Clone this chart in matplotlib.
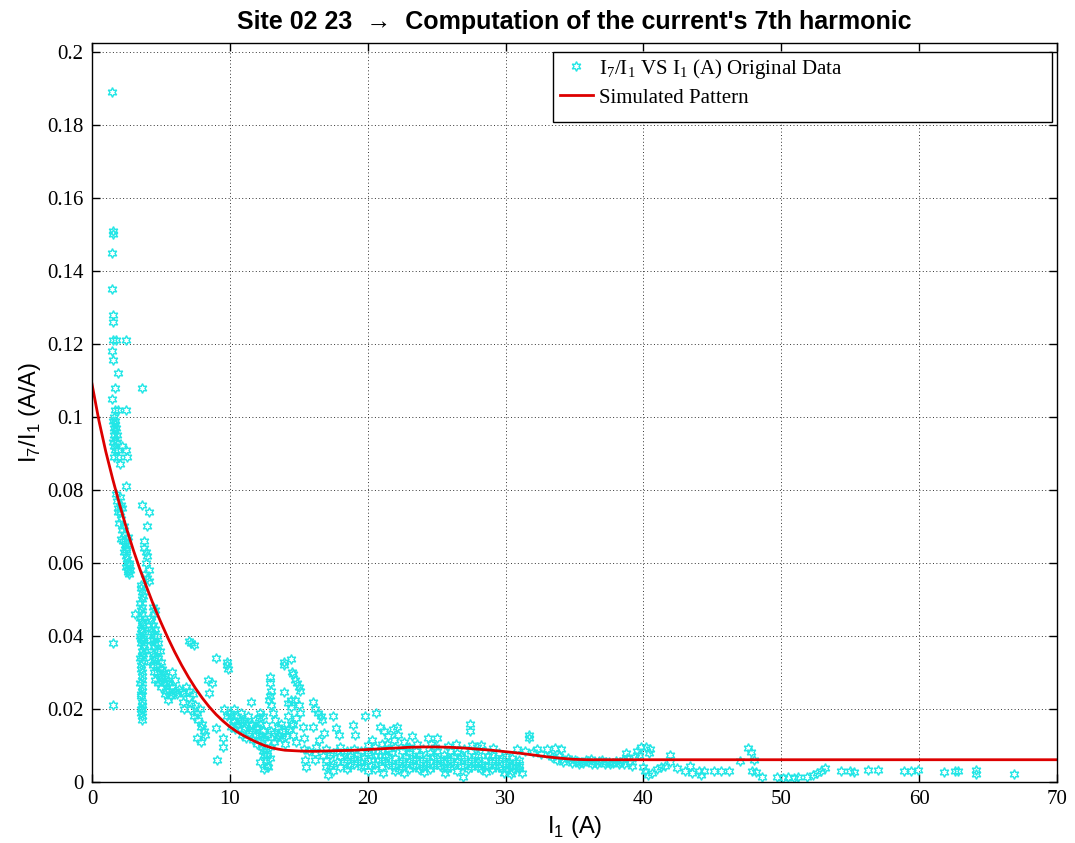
import numpy as np
import matplotlib
matplotlib.use("Agg")
import matplotlib.pyplot as plt
from matplotlib.patches import Rectangle
from matplotlib.ticker import MultipleLocator, FuncFormatter

plt.rcParams['mathtext.fontset'] = 'custom'
plt.rcParams['mathtext.rm'] = 'Liberation Serif'
plt.rcParams['mathtext.sf'] = 'Liberation Sans'

# measured points (I1 in A, I7/I1 ratio), grouped by current range
steep_pts = [(1.45, 0.189), (1.5, 0.151), (1.5, 0.150), (1.45, 0.145), (1.45, 0.135), (1.55, 0.128),
             (1.55, 0.126), (1.5, 0.121), (1.75, 0.121), (2.45, 0.121), (1.45, 0.118), (1.55, 0.1155),
             (1.9, 0.112), (1.7, 0.108), (1.45, 0.105), (1.65, 0.102), (1.9, 0.102), (2.45, 0.102),
             (1.6, 0.100), (1.7, 0.099), (1.6, 0.097), (1.65, 0.096), (1.7, 0.094), (1.8, 0.093),
             (1.6, 0.092), (1.9, 0.091), (2.2, 0.092), (2.5, 0.091), (2.55, 0.089), (1.9, 0.089),
             (2.0, 0.087), (2.5, 0.081), (1.5, 0.038), (1.5, 0.021), (1.75, 0.079), (1.8, 0.077),
             (1.85, 0.075), (1.9, 0.074), (2.0, 0.074), (2.2, 0.075), (1.95, 0.071), (2.3, 0.070),
             (2.1, 0.0665), (2.25, 0.066), (2.4, 0.065), (2.3, 0.063), (2.5, 0.062), (2.55, 0.060),
             (2.5, 0.059), (2.6, 0.058), (2.7, 0.057), (2.7, 0.060), (2.45, 0.064), (2.35, 0.068),
             (2.6, 0.067), (2.1, 0.072), (1.55, 0.099), (1.65, 0.098), (1.6, 0.095), (1.75, 0.097),
             (1.55, 0.093), (1.7, 0.091), (1.6, 0.089), (1.8, 0.095), (2.0, 0.078), (2.1, 0.076),
             (2.2, 0.069), (2.4, 0.066), (2.5, 0.0635), (2.55, 0.061), (2.65, 0.0595), (2.6, 0.0575),
             (2.75, 0.058)]

column_pts = [(3.6, 0.108), (3.6, 0.076), (4.1, 0.074), (4.0, 0.070), (3.75, 0.066), (3.8, 0.064),
              (3.9, 0.063), (4.0, 0.062), (3.95, 0.060), (4.1, 0.058), (3.85, 0.057), (4.0, 0.056),
              (4.1, 0.055), (3.55, 0.054), (3.6, 0.052), (3.7, 0.051), (3.5, 0.049), (3.6, 0.048),
              (3.65, 0.046), (3.5, 0.045), (3.6, 0.044), (3.7, 0.043), (3.55, 0.042), (3.6, 0.041),
              (3.5, 0.040), (3.65, 0.039), (3.55, 0.038), (3.6, 0.036), (3.7, 0.035), (3.5, 0.034),
              (3.6, 0.033), (3.55, 0.031), (3.65, 0.030), (3.6, 0.028), (3.5, 0.027), (3.6, 0.025),
              (3.55, 0.024), (3.6, 0.022), (3.65, 0.020), (3.55, 0.019), (3.6, 0.018), (3.65, 0.017),
              (3.1, 0.046), (3.7, 0.0395), (3.75, 0.0375), (3.55, 0.053), (3.65, 0.050), (3.55, 0.047),
              (3.6, 0.0435), (3.65, 0.0415), (3.55, 0.0395), (3.7, 0.037), (3.6, 0.0345), (3.55, 0.032),
              (3.65, 0.029), (3.6, 0.026), (3.55, 0.0235), (3.65, 0.021), (3.55, 0.020)]

cloud_pts = [(4.4, 0.048), (4.6, 0.047), (4.5, 0.046), (4.3, 0.044), (4.4, 0.043), (4.6, 0.042),
             (4.3, 0.041), (4.5, 0.040), (4.7, 0.040), (4.4, 0.039), (4.6, 0.038), (4.8, 0.038),
             (4.5, 0.037), (4.7, 0.036), (4.9, 0.036), (4.4, 0.035), (4.6, 0.034), (4.8, 0.034),
             (5.0, 0.033), (4.7, 0.032), (4.9, 0.031), (5.1, 0.031), (5.2, 0.030), (5.0, 0.029),
             (5.3, 0.029), (5.5, 0.028), (5.2, 0.027), (5.6, 0.027), (5.8, 0.026), (5.4, 0.025),
             (6.0, 0.025), (6.2, 0.024), (5.7, 0.0235), (5.5, 0.0225), (6.5, 0.025), (6.8, 0.026),
             (4.5, 0.030), (4.6, 0.028), (5.0, 0.026), (5.3, 0.024), (4.8, 0.027), (6.0, 0.028),
             (5.8, 0.030), (4.2, 0.045), (4.3, 0.042), (4.2, 0.039), (4.3, 0.036), (4.2, 0.033),
             (4.4, 0.032), (4.5, 0.0335), (4.7, 0.030), (4.9, 0.028), (5.1, 0.0285), (5.4, 0.027),
             (5.6, 0.025), (5.9, 0.0245), (6.3, 0.0255), (6.6, 0.0245), (7.0, 0.025), (7.2, 0.0215),
             (7.1, 0.020)]

mid_pts = [(7.0, 0.0385), (7.2, 0.038), (7.4, 0.0375), (6.6, 0.022), (6.7, 0.020), (7.0, 0.023),
           (7.3, 0.024), (7.5, 0.021), (7.6, 0.019), (7.4, 0.018), (7.8, 0.020), (7.7, 0.017),
           (8.0, 0.016), (7.9, 0.015), (8.1, 0.014), (8.2, 0.013), (7.6, 0.012), (7.9, 0.011),
           (8.4, 0.028), (8.7, 0.027), (8.5, 0.0245), (9.0, 0.034), (9.0, 0.0147), (9.1, 0.006),
           (9.5, 0.012), (9.5, 0.0095), (9.8, 0.033), (9.8, 0.032), (9.85, 0.031), (9.6, 0.020),
           (9.8, 0.018), (10.0, 0.019), (10.2, 0.017), (10.3, 0.020), (10.5, 0.018), (10.6, 0.016),
           (10.8, 0.019), (11.0, 0.017), (11.1, 0.015), (11.3, 0.018), (11.5, 0.022), (11.5, 0.016),
           (11.6, 0.014), (11.8, 0.017), (12.0, 0.015), (12.1, 0.013), (12.2, 0.016), (12.4, 0.014),
           (12.5, 0.012), (10.1, 0.015), (10.4, 0.0145), (10.9, 0.013), (11.2, 0.012), (11.7, 0.0115),
           (12.0, 0.0105), (12.3, 0.0095), (12.5, 0.0075), (12.6, 0.006), (12.7, 0.0045), (12.8, 0.004),
           (12.6, 0.009), (12.4, 0.0085), (12.2, 0.0055), (12.5, 0.0035), (10.1, 0.018), (10.3, 0.0165),
           (10.5, 0.0155), (10.7, 0.017), (10.9, 0.0165), (11.0, 0.0145), (11.2, 0.016), (11.4, 0.0135),
           (11.6, 0.0155), (11.8, 0.013), (11.9, 0.015), (12.1, 0.0175), (12.2, 0.019), (12.3, 0.0125),
           (12.4, 0.018), (12.6, 0.0155), (12.7, 0.013), (12.8, 0.011), (12.9, 0.0095), (12.7, 0.0075),
           (12.9, 0.0065)]

knee_pts = [(12.9, 0.0287), (12.9, 0.027), (12.95, 0.025), (12.9, 0.0235), (12.85, 0.0224), (13.0, 0.021),
            (13.1, 0.019), (13.3, 0.017), (13.5, 0.015), (13.7, 0.016), (13.9, 0.033), (13.95, 0.032),
            (14.45, 0.0336), (14.5, 0.030), (14.6, 0.0295), (14.7, 0.028), (14.9, 0.027), (15.0, 0.026),
            (15.1, 0.025), (13.9, 0.0246), (14.4, 0.0224), (14.4, 0.0205), (13.5, 0.013), (13.8, 0.012),
            (14.0, 0.014), (14.2, 0.018), (14.4, 0.016), (14.6, 0.013), (15.1, 0.019), (15.3, 0.015),
            (15.35, 0.012), (15.4, 0.009), (15.45, 0.006), (15.5, 0.004), (16.0, 0.022), (16.2, 0.020),
            (16.4, 0.019), (16.6, 0.018), (16.7, 0.017), (16.0, 0.015), (16.2, 0.008), (16.2, 0.006),
            (17.1, 0.002), (13.2, 0.011), (14.0, 0.0105), (14.8, 0.011), (16.5, 0.0115), (16.8, 0.0135),
            (13.0, 0.014), (13.2, 0.0135), (13.4, 0.012), (13.6, 0.0125), (13.8, 0.014), (14.1, 0.0125),
            (14.3, 0.0145), (14.6, 0.0155), (14.8, 0.0175), (14.2, 0.0215), (14.7, 0.0225), (15.0, 0.021)]

band_pts = [(17.5, 0.018), (17.7, 0.0147), (17.9, 0.0128), (18.9, 0.0155), (19.1, 0.013), (19.8, 0.018),
            (20.6, 0.019), (20.0, 0.003), (20.9, 0.015), (21.2, 0.014), (21.5, 0.0125), (21.9, 0.0114),
            (22.2, 0.0128), (22.6, 0.011), (23.0, 0.0095), (24.4, 0.012), (25.0, 0.012), (27.4, 0.016),
            (27.4, 0.014), (27.6, 0.010), (28.2, 0.010), (24.6, 0.0105),
            (17.0, 0.009), (17.0, 0.006), (17.0, 0.004), (17.5, 0.008), (17.5, 0.005), (17.5, 0.003),
            (18.0, 0.0095), (18.0, 0.007), (18.0, 0.004), (18.5, 0.0085), (18.5, 0.006), (18.5, 0.0035),
            (19.0, 0.009), (19.0, 0.0065), (19.0, 0.005), (19.5, 0.0085), (19.5, 0.0055), (19.5, 0.004),
            (20.0, 0.010), (20.0, 0.008), (20.0, 0.006), (20.5, 0.0095), (20.5, 0.007), (20.5, 0.005),
            (20.5, 0.0035), (21.0, 0.0105), (21.0, 0.0085), (21.0, 0.006), (21.0, 0.004), (21.5, 0.009),
            (21.5, 0.007), (21.5, 0.005), (22.0, 0.0095), (22.0, 0.0065), (22.0, 0.0045), (22.0, 0.003),
            (22.5, 0.0085), (22.5, 0.006), (22.5, 0.004), (23.0, 0.008), (23.0, 0.0055), (23.0, 0.0035),
            (23.5, 0.0085), (23.5, 0.0065), (23.5, 0.0045), (24.0, 0.009), (24.0, 0.006), (24.0, 0.004),
            (24.5, 0.008), (24.5, 0.0055), (24.5, 0.0035), (25.0, 0.0085), (25.0, 0.0065), (25.0, 0.005),
            (25.5, 0.0075), (25.5, 0.0055), (25.5, 0.004), (26.0, 0.0085), (26.0, 0.006), (26.0, 0.004),
            (26.5, 0.008), (26.5, 0.0055), (26.5, 0.003), (27.0, 0.009), (27.0, 0.0065), (27.0, 0.0045),
            (27.5, 0.0085), (27.5, 0.006), (27.5, 0.004), (28.0, 0.0075), (28.0, 0.0055), (28.0, 0.004),
            (28.5, 0.0085), (28.5, 0.006), (28.5, 0.0045), (29.0, 0.0075), (29.0, 0.0055), (29.0, 0.0035),
            (29.5, 0.008), (29.5, 0.006), (29.5, 0.004), (30.0, 0.007), (30.0, 0.005), (30.0, 0.0035),
            (30.5, 0.0065), (30.5, 0.0045), (30.5, 0.003), (31.0, 0.006), (31.0, 0.0045), (31.0, 0.0035),
            (17.25, 0.0075), (17.75, 0.0055), (18.25, 0.008), (18.75, 0.0045), (19.25, 0.0075),
            (19.75, 0.0065), (20.25, 0.0045), (20.75, 0.0085), (21.25, 0.0055), (21.75, 0.008),
            (22.25, 0.0055), (22.75, 0.007), (23.25, 0.0045), (23.75, 0.0075), (24.25, 0.005),
            (24.75, 0.007), (25.25, 0.0045), (25.75, 0.0065), (26.25, 0.005), (26.75, 0.007),
            (27.25, 0.0055), (27.75, 0.007), (28.25, 0.005), (28.75, 0.007), (29.25, 0.0045),
            (29.75, 0.0065), (30.25, 0.0055), (30.75, 0.004),
            (15.75, 0.0085), (16.25, 0.0095), (16.75, 0.007), (17.25, 0.0045), (17.75, 0.0085),
            (18.25, 0.0055), (18.75, 0.007), (19.25, 0.0055), (19.75, 0.0045), (20.25, 0.0075),
            (20.75, 0.006), (21.25, 0.0075), (21.75, 0.0045), (22.25, 0.0035), (22.75, 0.005),
            (23.25, 0.006), (23.75, 0.0035), (24.25, 0.0065), (24.75, 0.0045), (25.25, 0.006),
            (25.75, 0.0035), (26.25, 0.007), (26.75, 0.0045), (27.25, 0.0035), (27.75, 0.005),
            (28.25, 0.0035), (28.75, 0.0045), (29.25, 0.006), (29.75, 0.0035), (30.25, 0.0045),
            (30.75, 0.0055), (21.1, 0.0025), (22.6, 0.0025), (24.1, 0.0028), (25.6, 0.0025),
            (26.9, 0.0015), (28.6, 0.0028), (29.9, 0.0025), (30.4, 0.0022), (31.2, 0.0025),
            (20.3, 0.0115), (21.4, 0.0105), (22.8, 0.0095), (23.6, 0.0105), (24.9, 0.0095),
            (25.8, 0.0098), (26.4, 0.0105), (27.9, 0.0095), (29.1, 0.0092), (23.2, 0.0125),
            (21.8, 0.0145), (22.1, 0.015)]

tail_pts = [(31.7, 0.0128), (31.7, 0.012), (30.8, 0.009), (32.3, 0.009), (33.0, 0.009), (33.6, 0.0092),
            (34.0, 0.009), (33.2, 0.0075), (33.9, 0.007), (34.5, 0.0065), (35.0, 0.006), (35.5, 0.0055),
            (36.0, 0.0058), (36.5, 0.0055), (37.0, 0.006), (37.5, 0.0055), (38.0, 0.0058), (38.5, 0.006),
            (39.0, 0.0055), (34.2, 0.0055), (35.3, 0.005), (36.3, 0.005), (37.2, 0.0048), (38.2, 0.005),
            (39.2, 0.0045), (38.7, 0.008), (39.5, 0.0085), (39.8, 0.0095), (40.2, 0.0095), (40.5, 0.009),
            (40.4, 0.008), (40.0, 0.004), (40.1, 0.003), (40.3, 0.002), (40.6, 0.0025), (41.0, 0.0035),
            (41.3, 0.004), (41.6, 0.0045), (41.9, 0.0073), (41.9, 0.0055), (42.4, 0.0038), (43.4, 0.0045),
            (43.0, 0.003), (43.5, 0.0025), (44.0, 0.003), (44.2, 0.002),
            (31.4, 0.0085), (32.0, 0.0082), (32.6, 0.0078), (33.4, 0.0068), (34.1, 0.0062), (34.7, 0.006),
            (35.2, 0.0058), (35.8, 0.006), (36.2, 0.0062), (36.8, 0.0058), (37.3, 0.0055), (37.8, 0.0052),
            (38.3, 0.0055), (38.8, 0.0065), (39.4, 0.0068), (39.7, 0.0075), (35.6, 0.0052), (36.6, 0.0048),
            (37.6, 0.005), (38.6, 0.0048), (33.7, 0.006), (34.8, 0.0052),
            (44.4, 0.003), (45.1, 0.003), (45.6, 0.003), (46.2, 0.003), (47.0, 0.0057), (47.6, 0.0093),
            (47.8, 0.0082), (47.9, 0.003), (48.0, 0.006), (48.2, 0.0027), (48.6, 0.0015), (49.7, 0.0015),
            (50.1, 0.001), (50.5, 0.0013), (50.9, 0.0012), (51.2, 0.0015), (51.9, 0.0013), (52.3, 0.0018),
            (52.6, 0.0025), (52.9, 0.003), (53.2, 0.0037), (54.3, 0.003), (55.0, 0.003), (55.3, 0.0028),
            (56.3, 0.0033), (57.0, 0.0033), (58.9, 0.003), (59.4, 0.0031), (59.9, 0.0033), (61.8, 0.0027),
            (62.6, 0.003), (62.8, 0.003), (64.1, 0.0033), (64.1, 0.0022), (66.9, 0.0022)]

# fitted curve
fit_i1 = [0, 0.5, 1, 1.5, 2, 2.5, 3, 3.5, 4, 4.5, 5, 5.5, 6, 6.5, 7, 7.5, 8, 8.5, 9, 9.5,
          10, 10.5, 11, 11.5, 12, 12.5, 13, 13.5, 14, 14.5, 15, 16, 17, 18, 19, 20, 21, 22, 23,
          24, 25, 26, 27, 28, 29, 30, 31, 32, 33, 34, 35, 36, 70]
fit_ratio = [0.109, 0.099, 0.0905, 0.083, 0.076, 0.0695, 0.0635, 0.058, 0.053, 0.0481, 0.0437,
             0.0395, 0.0356, 0.032, 0.0287, 0.0257, 0.023, 0.0206, 0.0185, 0.0167,
             0.0151, 0.0138, 0.0127, 0.0117, 0.0108, 0.0100, 0.0094, 0.0090, 0.0087, 0.0086, 0.0085,
             0.0084, 0.0085, 0.0086, 0.0087, 0.0089, 0.0091, 0.0093, 0.0095, 0.0096, 0.0096, 0.0095,
             0.0093, 0.0090, 0.0087, 0.0083, 0.0079, 0.0074, 0.0069, 0.0065, 0.0062, 0.0061, 0.0061]

pts = np.array(steep_pts + column_pts + cloud_pts + mid_pts + knee_pts + band_pts + tail_pts)

fig = plt.figure(figsize=(10.75, 8.43), dpi=100)
ax = fig.add_axes([92 / 1075, 1 - 782 / 843, 965 / 1075, 739 / 843])

ax.plot(pts[:, 0], pts[:, 1], ls='none', marker=(6, 1, 0), mfc='none', mec='#22e6e6',
        ms=7, mew=1.0, label=r'I$_7$/I$_1$ VS I$_1$ (A) Original Data')
ax.plot(fit_i1, fit_ratio, color='#dd0000', lw=2.0, label='Simulated Pattern')

ax.set_xlim(0, 70)
ax.set_ylim(0, 0.2024)
ax.xaxis.set_major_locator(MultipleLocator(10))
ax.yaxis.set_major_locator(MultipleLocator(0.02))
ax.yaxis.set_major_formatter(FuncFormatter(lambda v, p: '%g' % round(v, 3)))
ax.grid(True, color='#333333', ls=(0, (1, 2.5)), lw=0.7)
ax.tick_params(direction='in', length=6, width=1, top=True, right=True, labelsize=15, pad=6)
for lab in ax.get_xticklabels() + ax.get_yticklabels():
    lab.set_fontfamily('Liberation Serif')
for s in ax.spines.values():
    s.set_linewidth(1)

ax.set_xlabel(r'I$_\mathsf{1}$ (A)', fontfamily='Liberation Sans', fontsize=17, labelpad=3)
ax.set_ylabel(r'I$_\mathsf{7}$/I$_\mathsf{1}$ (A/A)', fontfamily='Liberation Sans', fontsize=17, labelpad=3)
ax.set_title("Site 02 23  \u2192  Computation of the current's 7th harmonic",
             fontfamily=['Liberation Sans Narrow', 'Liberation Sans', 'DejaVu Sans'],
             fontweight='bold', fontsize=18, pad=10)

# legend box
ax.add_patch(Rectangle((0.478, 0.893), 0.517, 0.095, transform=ax.transAxes, fill=True,
                       facecolor='white', edgecolor='black', lw=1, zorder=4))
leg = ax.legend(loc='upper left', bbox_to_anchor=(0.478, 0.99), frameon=False,
                prop={'family': 'Liberation Serif', 'size': 15}, handlelength=1.6,
                handletextpad=0.3, labelspacing=0.35, borderaxespad=0, borderpad=0.3,
                markerscale=1.0)
leg.set_zorder(5)

fig.savefig('out.png', dpi=100, facecolor='white')
